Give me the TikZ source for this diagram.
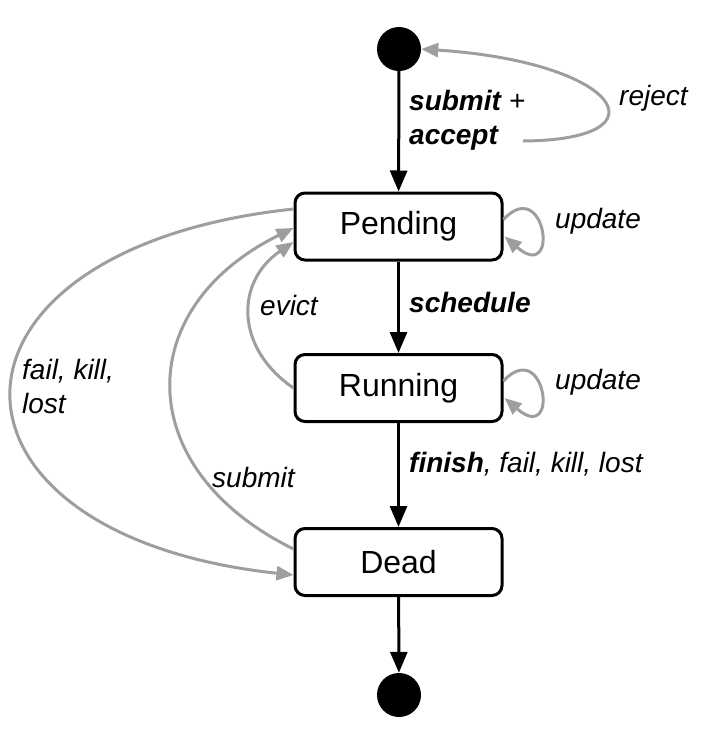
\documentclass[tikz,border=0pt]{standalone}
\usepackage{fontspec}
\setmainfont{Liberation Sans}
\usetikzlibrary{arrows.meta,calc}
\definecolor{arrowgray}{RGB}{158,158,158}
\tikzset{
  statebox/.style={draw, line width=3pt, rounded corners=10pt, minimum width=207pt, minimum height=67pt, inner sep=0pt, font=\fontsize{32}{38}\selectfont, fill=white},
  dotnode/.style={circle, fill=black, minimum size=44pt, inner sep=0pt},
  blk/.style={line width=3pt, -{Triangle[length=21pt,width=17pt]}},
  gry/.style={line width=3pt, draw=arrowgray, -{Triangle[length=17pt,width=14pt,fill=arrowgray]}},
  lbl/.style={font=\fontsize{28}{34}\selectfont\itshape, anchor=west, inner sep=0pt, align=left},
}
\begin{document}
\begin{tikzpicture}[x=1pt,y=-1pt]
\useasboundingbox (0,0) rectangle (724,742);
% states
\node[dotnode] (init) at (399,49) {};
\node[statebox] (pend) at (398.5,226.5) {Pending};
\node[statebox] (run) at (398.5,388) {Running};
\node[statebox] (dead) at (398.5,562) {Dead};
\node[dotnode] (fin) at (399,695) {};
% black transitions
\draw[blk] (init) -- (pend);
\draw[blk] (pend) -- (run);
\draw[blk] (run) -- (dead);
\draw[blk] (dead) -- (fin);
% reject
\coordinate (rj) at (523,141);
\draw[gry] (rj) .. controls (670,140) and (620,62) .. (init.east);
% self loops
\draw[gry] ($(pend.east)+(0,-7)$) .. controls ($(pend.east)+(42,-52)$) and ($(pend.east)+(57,58)$) .. ($(pend.east)+(1,10)$);
\draw[gry] ($(run.east)+(0,-7)$) .. controls ($(run.east)+(42,-52)$) and ($(run.east)+(57,58)$) .. ($(run.east)+(1,10)$);
% evict
\draw[gry] (run.west) .. controls (235,348) and (235,282) .. ($(pend.west)+(0,15.5)$);
% submit
\draw[gry] ($(dead.west)+(0,-13)$) .. controls (131,469) and (131,308) .. ($(pend.west)+(0,1.5)$);
% fail kill lost
\draw[gry] ($(pend.west)+(0,-17.5)$) .. controls (-82,249) and (-82,535) .. ($(dead.west)+(0,13)$);
% labels
\node[lbl] (lsub) at (409,120) {{\bfseries submit} +\\{\bfseries accept}};
\node[lbl] (lrej) at (619,98) {reject};
\node[lbl] (lup1) at (555,221) {update};
\node[lbl] (lup2) at (555,382) {update};
\node[lbl] (lsch) at (409,302) {\bfseries schedule};
\node[lbl] (lev) at (260,305) {evict};
\node[lbl] (lfkl) at (22,386) {fail, kill,\\lost};
\node[lbl] (lsm) at (212,477) {submit};
\node[lbl] (lfin) at (409,464) {{\bfseries finish}, fail, kill, lost};
\end{tikzpicture}
\end{document}
